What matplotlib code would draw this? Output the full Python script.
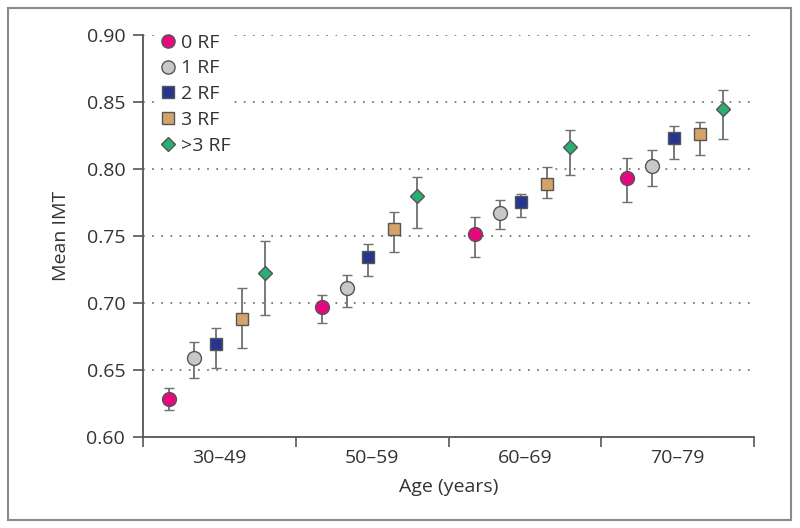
import numpy as np
import matplotlib.pyplot as plt
from matplotlib.lines import Line2D
from matplotlib.patches import Rectangle

plt.rcParams['font.family'] = ['Open Sans', 'DejaVu Sans']

age_groups = ["30–49", "50–59", "60–69", "70–79"]
rf_labels = ["0 RF", "1 RF", "2 RF", "3 RF", ">3 RF"]

# mean IMT per age group, with lower / upper ends of the error bars
mean_0rf = [0.628, 0.697, 0.751, 0.793]
low_0rf = [0.620, 0.685, 0.734, 0.775]
high_0rf = [0.636, 0.706, 0.764, 0.808]

mean_1rf = [0.659, 0.711, 0.767, 0.802]
low_1rf = [0.644, 0.697, 0.755, 0.787]
high_1rf = [0.671, 0.721, 0.777, 0.814]

mean_2rf = [0.669, 0.734, 0.775, 0.823]
low_2rf = [0.651, 0.720, 0.764, 0.807]
high_2rf = [0.681, 0.744, 0.781, 0.832]

mean_3rf = [0.688, 0.755, 0.789, 0.826]
low_3rf = [0.666, 0.738, 0.778, 0.810]
high_3rf = [0.711, 0.768, 0.801, 0.835]

mean_gt3rf = [0.722, 0.780, 0.816, 0.845]
low_gt3rf = [0.691, 0.756, 0.795, 0.822]
high_gt3rf = [0.746, 0.794, 0.829, 0.859]

means = [mean_0rf, mean_1rf, mean_2rf, mean_3rf, mean_gt3rf]
lows = [low_0rf, low_1rf, low_2rf, low_3rf, low_gt3rf]
highs = [high_0rf, high_1rf, high_2rf, high_3rf, high_gt3rf]

# style per series
colors = ["#E6087F", "#C8C8C8", "#26368F", "#D4A36B", "#2BAE72"]
markers = ["o", "o", "s", "s", "D"]
sizes = [10, 10, 9, 9, 7.5]
offsets = [-0.33, -0.165, -0.025, 0.145, 0.295]

text_col = "#333333"
axis_col = "#555555"

fig = plt.figure(figsize=(8, 5.28), dpi=100)
ax = fig.add_axes([0.179, 0.173, 0.9425 - 0.179, 0.934 - 0.173])

centers = np.arange(len(age_groups)) + 0.5
for i in range(len(rf_labels)):
    m = np.array(means[i])
    lo = m - np.array(lows[i])
    hi = np.array(highs[i]) - m
    ax.errorbar(centers + offsets[i], m, yerr=[lo, hi], fmt=markers[i],
                ms=sizes[i], mfc=colors[i], mec="#555555", mew=1.0,
                ecolor="#707070", elinewidth=1.3, capsize=3.5, capthick=1.3,
                zorder=3)

ax.set_xlim(0, 4)
ax.set_ylim(0.60, 0.90)
ax.set_yticks(np.arange(0.60, 0.901, 0.05))
ax.set_yticklabels(["%.2f" % v for v in np.arange(0.60, 0.901, 0.05)])
ax.set_xticks(range(5))
ax.set_xticklabels([])
ax.set_xticks(centers, minor=True)
ax.set_xticklabels(age_groups, minor=True)

ax.tick_params(axis='x', which='major', length=7, width=1.2, color=axis_col, direction='out')
ax.tick_params(axis='x', which='minor', length=0, pad=9, labelsize=14, labelcolor=text_col)
ax.tick_params(axis='y', length=7, width=1.2, color=axis_col, pad=6,
               labelsize=14, labelcolor=text_col)

for s in ['top', 'right']:
    ax.spines[s].set_visible(False)
for s in ['left', 'bottom']:
    ax.spines[s].set_color(axis_col)
    ax.spines[s].set_linewidth(1.3)

ax.set_axisbelow(True)
ax.grid(axis='y', color="#666666", linestyle=(0, (1, 4.5)), linewidth=1.2)

ax.set_xlabel("Age (years)", fontsize=14, color=text_col, labelpad=8)
ax.set_ylabel("Mean IMT", fontsize=14, color=text_col, labelpad=12)

handles = [Line2D([], [], linestyle='none', marker=markers[i], ms=sizes[i] - 0.5,
                  mfc=colors[i], mec="#555555", mew=1.0) for i in range(len(rf_labels))]
leg = ax.legend(handles, rf_labels, loc='upper left', bbox_to_anchor=(0.022, 1.008),
                fontsize=14, frameon=True, facecolor='white', edgecolor='none',
                framealpha=1.0, handletextpad=0.15, labelspacing=0.4,
                borderpad=0.1, borderaxespad=0.0, handlelength=1.0, fancybox=False)
for t in leg.get_texts():
    t.set_color(text_col)

# outer frame round the whole figure
fig.patches.append(Rectangle((8 / 800, 8 / 528), 783 / 800, 512 / 528,
                             transform=fig.transFigure, fill=False,
                             edgecolor="#8a8a8a", linewidth=1.5))

fig.savefig("out.png", dpi=100)
